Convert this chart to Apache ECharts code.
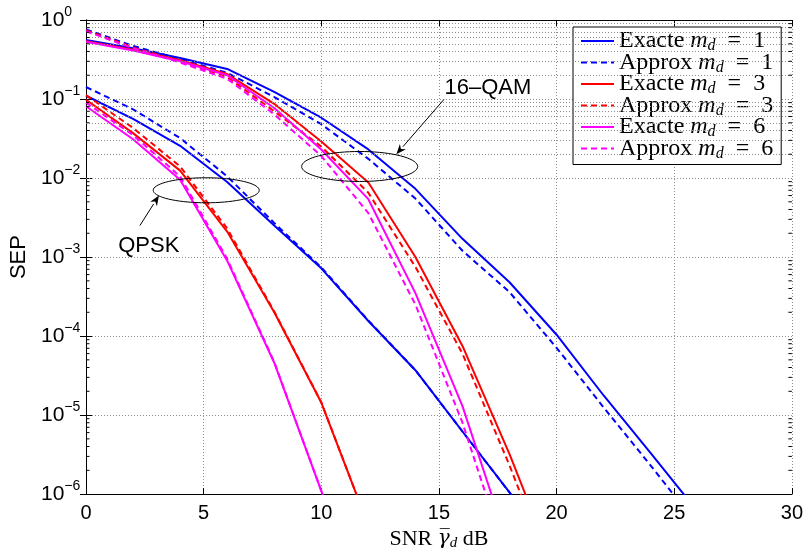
<!DOCTYPE html>
<html><head><meta charset="utf-8">
<script src="https://cdn.jsdelivr.net/npm/echarts@6/dist/echarts.min.js"></script>
<style>html,body{margin:0;padding:0;background:#fff}#c{width:806px;height:556px}</style>
</head><body><div id="c"></div>
<script>
// SNR points (dB)
const snr = [0, 2, 4, 6, 8, 10, 12, 14, 16, 18, 20, 22, 24, 26];
const xTickValues = [0, 5, 10, 15, 20, 25, 30];

// 16-QAM
const qam_exact_m1  = [0.56, 0.44, 0.33, 0.24, 0.123, 0.058, 0.023, 0.0073, 0.0017, 4.8e-4, 1.04e-4, 1.77e-5, 3.3e-6, 6e-7];
const qam_approx_m1 = [0.76, 0.47, 0.32, 0.215, 0.106, 0.048, 0.0175, 0.0055, 0.0012, 3.6e-4, 7.1e-5, 1.25e-5, 2.3e-6, 4e-7];
const qam_exact_m3  = [0.54, 0.42, 0.31, 0.207, 0.087, 0.029, 0.0088, 1.0e-3, 7.5e-5, 3.2e-6, 1e-7, null, null, null];
const qam_approx_m3 = [0.74, 0.45, 0.30, 0.19, 0.070, 0.025, 0.0065, 7.5e-4, 6e-5, 2.3e-6, 7e-8, null, null, null];
const qam_exact_m6  = [0.53, 0.41, 0.30, 0.20, 0.077, 0.023, 0.0054, 3.5e-4, 1.3e-5, 2e-7, null, null, null, null];
const qam_approx_m6 = [0.72, 0.44, 0.29, 0.18, 0.064, 0.019, 0.0036, 2.5e-4, 8e-6, 1.2e-7, null, null, null, null];

// QPSK
const qpsk_exact_m1  = [0.11, 0.056, 0.0256, 0.0089, 0.0025, 7.2e-4, 1.55e-4, 3.7e-5, 6.2e-6, 1.05e-6, 1.5e-7, null, null, null];
const qpsk_approx_m1 = [0.142, 0.074, 0.032, 0.0105, 0.0027, 7.4e-4, 1.57e-4, 3.7e-5, 6.2e-6, 1.05e-6, 1.5e-7, null, null, null];
const qpsk_exact_m3  = [0.098, 0.037, 0.0124, 0.0021, 2.0e-4, 1.44e-5, 4e-7, null, null, null, null, null, null, null];
const qpsk_approx_m3 = [0.112, 0.043, 0.014, 0.0023, 2.05e-4, 1.45e-5, 4e-7, null, null, null, null, null, null, null];
const qpsk_exact_m6  = [0.081, 0.031, 0.0095, 9e-4, 4.6e-5, 1.1e-6, 2e-8, null, null, null, null, null, null, null];
const qpsk_approx_m6 = [0.09, 0.035, 0.0105, 9.5e-4, 4.7e-5, 1.1e-6, 2e-8, null, null, null, null, null, null, null];

const legendNames = ['Exacte m_d = 1', 'Approx m_d = 1', 'Exacte m_d = 3', 'Approx m_d = 3', 'Exacte m_d = 6', 'Approx m_d = 6'];

const BLUE = '#0000ff', RED = '#ff0000', MAG = '#ff00ff';
const defs = [
  [legendNames[0], qpsk_exact_m1, BLUE, false],
  [legendNames[1], qpsk_approx_m1, BLUE, true],
  [legendNames[2], qpsk_exact_m3, RED, false],
  [legendNames[3], qpsk_approx_m3, RED, true],
  [legendNames[4], qpsk_exact_m6, MAG, false],
  [legendNames[5], qpsk_approx_m6, MAG, true],
  [legendNames[0], qam_exact_m1, BLUE, false],
  [legendNames[1], qam_approx_m1, BLUE, true],
  [legendNames[2], qam_exact_m3, RED, false],
  [legendNames[3], qam_approx_m3, RED, true],
  [legendNames[4], qam_exact_m6, MAG, false],
  [legendNames[5], qam_approx_m6, MAG, true]
];

const minorVals = [];
for (let e = -6; e < 0; e++) for (let k = 2; k <= 9; k++) minorVals.push(k * Math.pow(10, e));

const gridStyle = {color: '#8c8c8c', type: [1, 2], width: 1};

const series = [{
  type: 'line', data: [], silent: true, z: 1,
  markLine: {silent: true, symbol: 'none', animation: false, label: {show: false},
    lineStyle: gridStyle, emphasis: {disabled: true},
    data: minorVals.map(v => ({yAxis: v}))}
}];
defs.forEach(d => {
  const data = [];
  snr.forEach((x, i) => { if (d[1][i] != null) data.push([x, d[1][i]]); });
  series.push({
    type: 'line', name: d[0], data: data, symbol: 'none', showSymbol: false, clip: true, z: 2,
    lineStyle: {color: d[2], width: 2, type: d[3] ? [6, 4] : 'solid'},
    itemStyle: {color: d[2]},
    emphasis: {disabled: true}
  });
});

const SOLID_ICON = 'path://M0,0H33V2H0Z';
const DASH_ICON = 'path://M0,0H6V2H0Z M10,0H16V2H10Z M20,0H26V2H20Z M30,0H33V2H30Z';

const chart = echarts.init(document.getElementById('c'), null, {renderer: 'canvas'});
const sup = v => { const e = Math.round(Math.log10(v)); return e < 0 ? '\u2212' + (-e) : String(e); };

chart.setOption({
  animation: false,
  backgroundColor: '#fff',
  grid: {left: 86, right: 12, top: 20, bottom: 59, containLabel: false},
  legend: {
    data: legendNames.map(n => ({name: n, icon: n.startsWith('Approx') ? DASH_ICON : SOLID_ICON})),
    orient: 'vertical', left: 573, top: 27, selectedMode: false,
    padding: [1, 8, 3, 8], itemGap: -4.5, itemWidth: 33, itemHeight: 2,
    backgroundColor: '#fff', borderColor: '#000', borderWidth: 1, borderRadius: 0,
    formatter: n => n.replace(/^(\w+) m_d = (\d)$/, '{n|$1 }{i|m}{s|d}{n|\u2002=\u2002$2}'),
    textStyle: {
      fontFamily: 'Liberation Serif', fontSize: 24, color: '#000', lineHeight: 20,
      rich: {
        n: {fontFamily: 'Liberation Serif', fontSize: 24, lineHeight: 20, color: '#000'},
        i: {fontFamily: 'Liberation Serif', fontStyle: 'italic', fontSize: 24, lineHeight: 20, color: '#000'},
        s: {fontFamily: 'Liberation Serif', fontStyle: 'italic', fontSize: 16, lineHeight: 14, padding: [10, 0, 0, 0], verticalAlign: 'middle', color: '#000'}
      }
    }
  },
  xAxis: [{
    type: 'value', min: 0, max: 30, interval: 5, position: 'bottom',
    name: '{n|SNR }{g|\u03b3\u0305}{s|d}{n| dB}', nameLocation: 'middle', nameGap: 25,
    nameTextStyle: {
      rich: {
        n: {fontFamily: 'Liberation Serif', fontSize: 22, lineHeight: 24, color: '#000'},
        g: {fontFamily: 'DejaVu Serif', fontStyle: 'italic', fontSize: 20, lineHeight: 24, color: '#000'},
        s: {fontFamily: 'Liberation Serif', fontStyle: 'italic', fontSize: 15, lineHeight: 15, verticalAlign: 'bottom', color: '#000'}
      }
    },
    axisLine: {lineStyle: {color: '#000', width: 1}},
    axisTick: {inside: true, length: 6, lineStyle: {color: '#000'}},
    axisLabel: {fontFamily: 'Liberation Sans', fontSize: 20, color: '#000', margin: 9,
      customValues: xTickValues},
    splitLine: {show: true, lineStyle: gridStyle}
  }, {
    type: 'value', min: 0, max: 30, interval: 5, position: 'top',
    axisLine: {lineStyle: {color: '#000', width: 1}},
    axisTick: {inside: true, length: 6, lineStyle: {color: '#000'}},
    axisLabel: {show: false}, splitLine: {show: false}
  }],
  yAxis: [{
    type: 'log', logBase: 10, min: 1e-6, max: 1, splitNumber: 6,
    name: 'SEP', nameLocation: 'middle', nameGap: 53,
    nameTextStyle: {fontFamily: 'Liberation Sans', fontSize: 22, color: '#000'},
    axisLine: {lineStyle: {color: '#000', width: 1}},
    axisTick: {inside: true, length: 6, lineStyle: {color: '#000'}},
    axisLabel: {
      align: 'left', margin: 45, color: '#000',
      formatter: v => '{b|10}{e|' + sup(v) + '}',
      rich: {
        b: {fontFamily: 'Liberation Sans', fontSize: 21, lineHeight: 30, color: '#000'},
        e: {fontFamily: 'Liberation Sans', fontSize: 14, lineHeight: 14, verticalAlign: 'top', color: '#000'}
      }
    },
    splitLine: {show: true, lineStyle: gridStyle}
  }, {
    type: 'log', logBase: 10, min: 1e-6, max: 1, splitNumber: 6, position: 'right',
    axisLine: {lineStyle: {color: '#000', width: 1}},
    axisTick: {inside: true, length: 6, lineStyle: {color: '#000'}},
    axisLabel: {show: false}, splitLine: {show: false}
  }],
  series: series
});

// annotations and minor ticks (placed in data coordinates)
const P = (x, y) => chart.convertToPixel({gridIndex: 0}, [x, y]);
function ellipse(cx, cy, rx, ry) {
  const c = P(cx, cy), pts = [];
  for (let i = 0; i <= 72; i++) { const t = i / 72 * 2 * Math.PI; pts.push([c[0] + rx * Math.cos(t), c[1] + ry * Math.sin(t)]); }
  return {type: 'polyline', shape: {points: pts}, style: {stroke: '#000', lineWidth: 1, fill: null}, z: 10};
}
function arrow(x0, y0, x1, y1) {
  const a = P(x0, y0), b = P(x1, y1);
  const dx = b[0] - a[0], dy = b[1] - a[1], L = Math.hypot(dx, dy), ux = dx / L, uy = dy / L;
  const hl = 10, hw = 4;
  const base = [b[0] - ux * hl, b[1] - uy * hl];
  return [
    {type: 'line', shape: {x1: a[0], y1: a[1], x2: base[0], y2: base[1]}, style: {stroke: '#000', lineWidth: 1}, z: 10},
    {type: 'polygon', shape: {points: [b, [base[0] - uy * hw, base[1] + ux * hw], [b[0] - ux * hl * 0.7, b[1] - uy * hl * 0.7], [base[0] + uy * hw, base[1] - ux * hw]]}, style: {fill: '#000'}, z: 10}
  ];
}
function label(txt, x, y) {
  const c = P(x, y);
  return {type: 'text', x: c[0], y: c[1], z: 10,
    style: {text: txt, fontFamily: 'Liberation Sans', fontSize: 22, fill: '#000', align: 'center', verticalAlign: 'middle'}};
}
const minorTicks = [];
minorVals.forEach(v => {
  const l = P(0, v), r = P(30, v);
  minorTicks.push({type: 'line', silent: true, z: 5, shape: {x1: l[0], y1: l[1], x2: l[0] + 3.5, y2: l[1]}, style: {stroke: '#000', lineWidth: 1}});
  minorTicks.push({type: 'line', silent: true, z: 5, shape: {x1: r[0], y1: r[1], x2: r[0] - 3.5, y2: r[1]}, style: {stroke: '#000', lineWidth: 1}});
});
chart.setOption({graphic: [
  ...minorTicks,
  ellipse(11.63, 0.0140, 58, 15),
  ellipse(5.11, 0.0070, 53, 12.5),
  ...arrow(15.21, 0.0986, 13.19, 0.020),
  ...arrow(2.29, 2.5e-3, 3.1, 6.0e-3),
  label('16\u2013QAM', 17.08, 0.14),
  label('QPSK', 2.67, 1.4e-3)
]});
</script></body></html>
